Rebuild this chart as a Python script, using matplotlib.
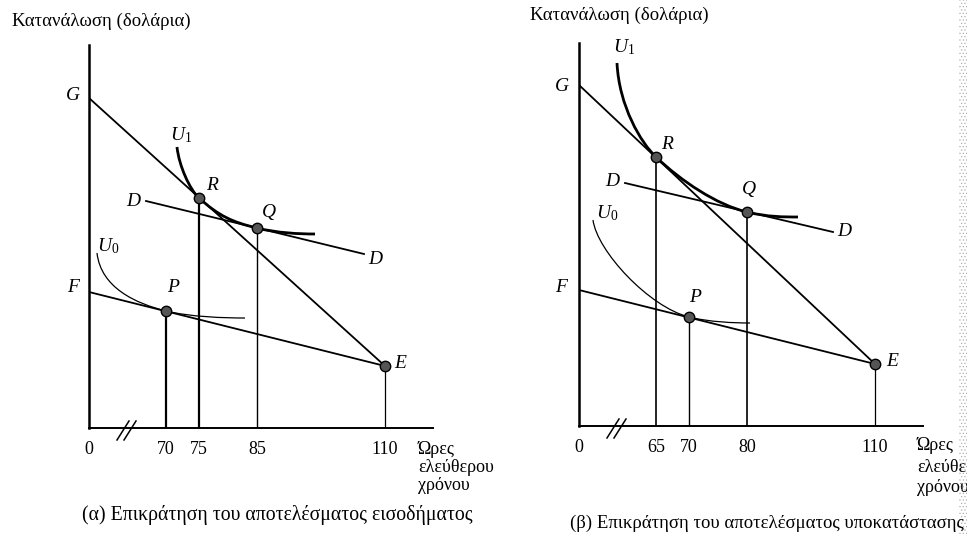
import numpy as np
import matplotlib.pyplot as plt
from matplotlib.path import Path
from matplotlib.patches import PathPatch, Rectangle

plt.rcParams['font.family'] = ['Liberation Serif', 'DejaVu Serif']
plt.rcParams['mathtext.fontset'] = 'custom'
plt.rcParams['mathtext.rm'] = 'Liberation Serif'
plt.rcParams['mathtext.it'] = 'Liberation Serif:italic'
plt.rcParams['hatch.linewidth'] = 0.5

# schematic units: x = horizontal position, y = consumption level
# (α) income effect dominates
a_hours = ['0', '70', '75', '85', '110']
a_xpos = [0, 77, 110, 168, 296]
a_G, a_F, a_E = 330, 136, 62
a_P, a_R, a_Q = 117, 230, 200
a_D = [(57, 227), (275, 174)]
a_U1 = [(88, 281), (90, 262), (101, 238), (110, 230), (130, 212), (143, 206),
        (168, 200), (188, 195), (210, 194), (226, 194)]
a_U0 = [(8, 175), (12, 140), (47, 124.5), (77, 117), (102, 111), (135, 110), (156, 110)]

# (β) substitution effect dominates
b_hours = ['0', '65', '70', '80', '110']
b_xpos = [0, 77, 110, 168, 296]
b_G, b_F, b_E = 341, 136, 62
b_R, b_P, b_Q = 269, 109, 214
b_D = [(46, 243), (254, 194)]
b_U1 = [(38, 363), (40, 320), (62, 283), (77, 269), (102, 245), (138, 221),
        (168, 214), (188, 209), (205, 209), (219, 209)]
b_U0 = [(14, 206), (18, 175), (70, 119), (110, 109), (130, 104), (155, 103), (171, 103)]

ylabel = 'Κατανάλωση (δολάρια)'
xlabel = ['Ώρες', 'ελεύθερου', 'χρόνου']
captions = ['(α) Επικράτηση του αποτελέσματος εισοδήματος',
            '(β) Επικράτηση του αποτελέσματος υποκατάστασης']


def bezier(ax, pts, lw):
    codes = [Path.MOVETO] + [Path.CURVE4] * (len(pts) - 1)
    ax.add_patch(PathPatch(Path(pts, codes), fc='none', ec='black', lw=lw, clip_on=False))


def lab(ax, x, y, s, ha='center'):
    ax.text(x, y, s, fontsize=14, ha=ha, va='center', style='italic', clip_on=False)


def panel(ax, xpos, hours, G, F, E, Dline, U1, U0, pts, drop_lw):
    ax.set_xlim(0, 344)
    ax.set_ylim(0, 383)
    for s in ['top', 'right']:
        ax.spines[s].set_visible(False)
    ax.spines['left'].set_linewidth(1.8)
    ax.spines['bottom'].set_linewidth(1.4)
    ax.set_yticks([])
    ax.set_xticks(xpos, hours, fontsize=13)
    ax.tick_params(axis='x', length=0, pad=9)
    ax.set_facecolor('none')

    ax.plot([0, xpos[4]], [G, E], color='black', lw=1.3)
    ax.plot([0, xpos[4]], [F, E], color='black', lw=1.3)
    ax.plot(*zip(*Dline), color='black', lw=1.3)
    bezier(ax, U1, 2.0)
    bezier(ax, U0, 0.9)

    for (x, y), lw in zip(pts, drop_lw):
        ax.plot([x, x], [0, y], color='black', lw=lw)
    xs, ys = zip(*pts)
    ax.plot(xs, ys, 'o', ms=7.5, mfc='#555555', mec='black', mew=1.0, zorder=5)

    # axis break
    for dx in (0, 7):
        ax.plot([28 + dx, 40 + dx], [-12, 7], color='black', lw=1.1, clip_on=False)


fig = plt.figure(figsize=(9.67, 5.34), dpi=100)
# scanned page gutter on the right edge
fig.patches.append(Rectangle((959 / 967, 0), 8 / 967, 1, transform=fig.transFigure,
                             fc='none', ec='#b0b0b0', lw=0, hatch='.....', zorder=0))
axa = fig.add_axes([89 / 967, 106 / 534, 344 / 967, 383 / 534])
axb = fig.add_axes([579 / 967, 108 / 534, 344 / 967, 383 / 534])

panel(axa, a_xpos, a_hours, a_G, a_F, a_E, a_D, a_U1, a_U0,
      [(a_xpos[1], a_P), (a_xpos[2], a_R), (a_xpos[3], a_Q), (a_xpos[4], a_E)],
      [1.6, 1.6, 1.0, 0.9])
panel(axb, b_xpos, b_hours, b_G, b_F, b_E, b_D, b_U1, b_U0,
      [(b_xpos[1], b_R), (b_xpos[2], b_P), (b_xpos[3], b_Q), (b_xpos[4], b_E)],
      [1.2, 1.0, 1.2, 0.9])

# labels, panel (α)
lab(axa, -16, 332, '$G$')
lab(axa, 81, 293, '$U_1$', ha='left')
lab(axa, 124, 242, '$R$')
lab(axa, 45, 226, '$D$')
lab(axa, 180, 216, '$Q$')
lab(axa, 287, 169, '$D$')
lab(axa, 19, 182, '$U_0$')
lab(axa, -15, 141, '$F$')
lab(axa, 85, 140, '$P$')
lab(axa, 312, 64, '$E$')

# labels, panel (β)
lab(axb, 45, 379, '$U_1$')
lab(axb, -17, 340, '$G$')
lab(axb, 89, 282, '$R$')
lab(axb, 34, 244, '$D$')
lab(axb, 170, 237, '$Q$')
lab(axb, 266, 194, '$D$')
lab(axb, 28, 213, '$U_0$')
lab(axb, -17, 138, '$F$')
lab(axb, 117, 129, '$P$')
lab(axb, 314, 64, '$E$')

for ax, x0, ys in [(axa, 329, [-21, -39, -58]), (axb, 338, [-20, -41, -61])]:
    for s, y in zip(xlabel, ys):
        ax.text(x0, y, s, fontsize=13, ha='left', va='center', clip_on=False)

fig.text(12 / 967, 1 - 21 / 534, ylabel, fontsize=13.5, ha='left', va='center')
fig.text(530 / 967, 1 - 15 / 534, ylabel, fontsize=13.5, ha='left', va='center')
fig.text(82 / 967, 1 - 515 / 534, captions[0], fontsize=14.2, ha='left', va='center')
fig.text(570 / 967, 1 - 523 / 534, captions[1], fontsize=13.5, ha='left', va='center')

fig.savefig('out.png', dpi=100)
